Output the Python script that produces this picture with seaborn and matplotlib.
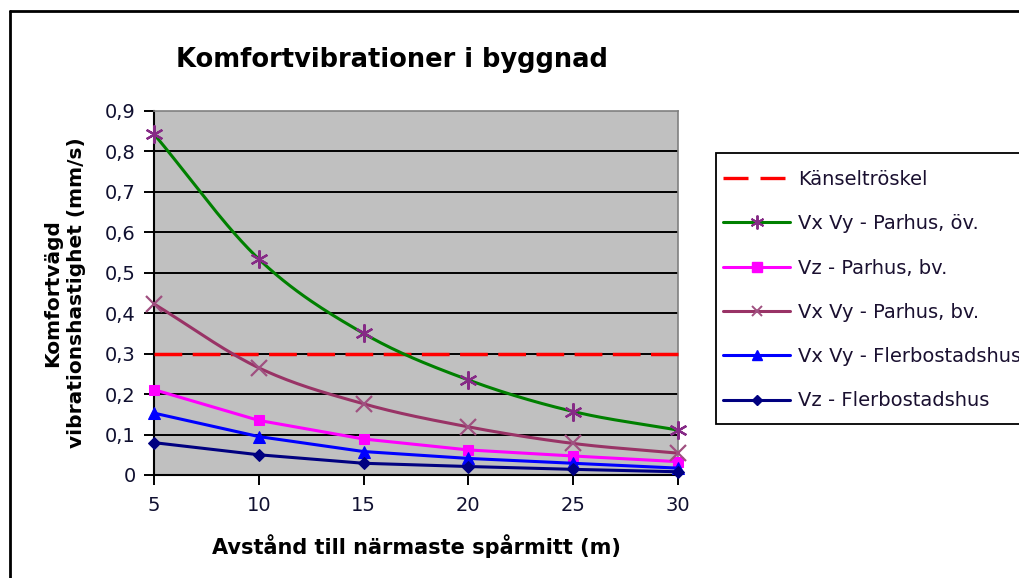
import numpy as np
import pandas as pd
import matplotlib
matplotlib.use("Agg")
import matplotlib.pyplot as plt
import seaborn as sns
from matplotlib.lines import Line2D
from matplotlib.patches import Rectangle

# Distance to nearest track centre (m)
distance_m = [5, 10, 15, 20, 25, 30]

# Perception threshold (mm/s)
threshold = 0.3

# Comfort-weighted vibration velocity (mm/s) per building type / direction
vxvy_parhus_ov = [0.843, 0.534, 0.350, 0.235, 0.157, 0.111]
vz_parhus_bv = [0.211, 0.135, 0.089, 0.062, 0.047, 0.033]
vxvy_parhus_bv = [0.423, 0.265, 0.176, 0.119, 0.078, 0.054]
vxvy_flerbostad = [0.153, 0.095, 0.058, 0.041, 0.029, 0.017]
vz_flerbostad = [0.080, 0.050, 0.029, 0.021, 0.014, 0.008]

y_ticks = [0, 0.1, 0.2, 0.3, 0.4, 0.5, 0.6, 0.7, 0.8, 0.9]
y_tick_labels = ["0", "0,1", "0,2", "0,3", "0,4", "0,5", "0,6", "0,7", "0,8", "0,9"]
x_ticks = [5, 10, 15, 20, 25, 30]

label_threshold = "Känseltröskel"
label_ov = "Vx Vy - Parhus, öv."
label_vz_bv = "Vz - Parhus, bv."
label_xy_bv = "Vx Vy - Parhus, bv."
label_xy_fb = "Vx Vy - Flerbostadshus"
label_vz_fb = "Vz - Flerbostadshus"


def smooth_curve(x, y, steps=30):
    """Catmull-Rom style smoothing through the given points."""
    x = np.asarray(x, float)
    y = np.asarray(y, float)
    px = np.concatenate([[2 * x[0] - x[1]], x, [2 * x[-1] - x[-2]]])
    py = np.concatenate([[2 * y[0] - y[1]], y, [2 * y[-1] - y[-2]]])
    xs, ys = [], []
    for i in range(1, len(px) - 2):
        t = np.linspace(0, 1, steps, endpoint=False)
        for arr, out in ((px, xs), (py, ys)):
            p0, p1, p2, p3 = arr[i - 1], arr[i], arr[i + 1], arr[i + 2]
            out.append(0.5 * ((2 * p1) + (-p0 + p2) * t
                              + (2 * p0 - 5 * p1 + 4 * p2 - p3) * t ** 2
                              + (-p0 + 3 * p1 - 3 * p2 + p3) * t ** 3))
    xs.append([x[-1]])
    ys.append([y[-1]])
    return np.concatenate(xs), np.concatenate(ys)


sns.set_theme(style="white")
plt.rcParams["font.family"] = ["DejaVu Sans"]
plt.rcParams["text.color"] = "black"
plt.rcParams["axes.labelcolor"] = "black"

W, H = 1019, 578
fig = plt.figure(figsize=(W / 100, H / 100), dpi=100)
ax = fig.add_axes([154 / W, 1 - 475 / H, (678 - 154) / W, (475 - 111) / H])
ax.set_facecolor("#C0C0C0")

# horizontal gridlines
for yv in y_ticks[1:-1]:
    ax.axhline(yv, color="black", lw=1.4, zorder=1)

lw = 2.2
star = (6, 2, 0)

# threshold
thr_df = pd.DataFrame({"x": [distance_m[0], distance_m[-1]], "y": [threshold, threshold]})
sns.lineplot(data=thr_df, x="x", y="y", ax=ax, color="#FF0000", lw=2.5,
             zorder=3, clip_on=False)
ax.lines[-1].set_dashes([8.0, 3.0])

# smoothed series
for vals, lc, mc, mk, ms in (
    (vxvy_parhus_ov, "#008000", "#862A86", star, 13),
    (vxvy_parhus_bv, "#993366", "#A05080", "x", 12),
):
    sx, sy = smooth_curve(distance_m, vals)
    sns.lineplot(x=sx, y=sy, ax=ax, color=lc, lw=lw, sort=False, zorder=4,
                 estimator=None)
    sns.lineplot(x=distance_m, y=vals, ax=ax, color=mc, lw=0, marker=mk,
                 markersize=ms, markeredgewidth=1.6, markeredgecolor=mc,
                 zorder=6, clip_on=False, estimator=None)

# straight series
for vals, c, mk, ms in (
    (vz_parhus_bv, "#FF00FF", "s", 7.5),
    (vxvy_flerbostad, "#0000FF", "^", 8),
    (vz_flerbostad, "#000080", "D", 6),
):
    sns.lineplot(x=distance_m, y=vals, ax=ax, color=c, lw=lw, marker=mk,
                 markersize=ms, markeredgecolor=c, markerfacecolor=c,
                 zorder=5, clip_on=False, estimator=None)

ax.set_xlim(5, 30)
ax.set_ylim(0, 0.9)
ax.set_xticks(x_ticks)
ax.set_xticklabels([str(v) for v in x_ticks])
ax.set_yticks(y_ticks)
ax.set_yticklabels(y_tick_labels)
ax.tick_params(axis="both", direction="out", length=7, width=1.4,
               color="black", labelsize=14, labelcolor="#101030",
               bottom=True, left=True)
ax.tick_params(axis="x", pad=8)
ax.tick_params(axis="y", pad=6)

for s in ("left", "bottom"):
    ax.spines[s].set_color("black")
    ax.spines[s].set_linewidth(1.5)
for s in ("top", "right"):
    ax.spines[s].set_color("#808080")
    ax.spines[s].set_linewidth(1.2)

ax.set_xlabel("Avstånd till närmaste spårmitt (m)", fontsize=15,
              fontweight="bold", labelpad=14, color="black")
ax.set_ylabel("Komfortvägd\nvibrationshastighet (mm/s)", fontsize=14.5,
              fontweight="bold", labelpad=14, linespacing=1.3, color="black")

fig.text(392 / W, 1 - 60 / H, "Komfortvibrationer i byggnad",
         fontsize=18.5, fontweight="bold", ha="center", va="center",
         color="black")

# legend box (extends past the right edge)
fig.add_artist(Rectangle((716 / W, 1 - 424 / H), 400 / W, (424 - 153) / H,
                         transform=fig.transFigure, facecolor="white",
                         edgecolor="black", lw=1.3, zorder=2, clip_on=False))

handles = [
    Line2D([], [], color="#FF0000", lw=2.4, dashes=[7.5, 3.6]),
    Line2D([], [], color="#008000", lw=lw, marker=star, markersize=10,
           markeredgecolor="#862A86", markeredgewidth=1.4),
    Line2D([], [], color="#FF00FF", lw=lw, marker="s", markersize=7),
    Line2D([], [], color="#993366", lw=lw, marker="x", markersize=7,
           markeredgecolor="#A05080", markeredgewidth=1.4),
    Line2D([], [], color="#0000FF", lw=lw, marker="^", markersize=7),
    Line2D([], [], color="#000080", lw=lw, marker="D", markersize=5.5),
]
labels = [label_threshold, label_ov, label_vz_bv, label_xy_bv, label_xy_fb, label_vz_fb]
leg = fig.legend(handles, labels, loc="upper left",
                 bbox_to_anchor=(723 / W, 1 - 170 / H), fontsize=14,
                 handlelength=3.45, handletextpad=0.4, labelspacing=1.3,
                 borderpad=0, borderaxespad=0, frameon=False)
leg.set_zorder(3)
for t in leg.get_texts():
    t.set_color("#1a1030")

# outer chart frame
fig.add_artist(Line2D([9.5 / W, 9.5 / W], [0, 1 - 11 / H], color="black",
                      lw=2, transform=fig.transFigure))
fig.add_artist(Line2D([9.5 / W, 1], [1 - 11 / H, 1 - 11 / H], color="black",
                      lw=2, transform=fig.transFigure))

fig.savefig("out.png", dpi=100)
